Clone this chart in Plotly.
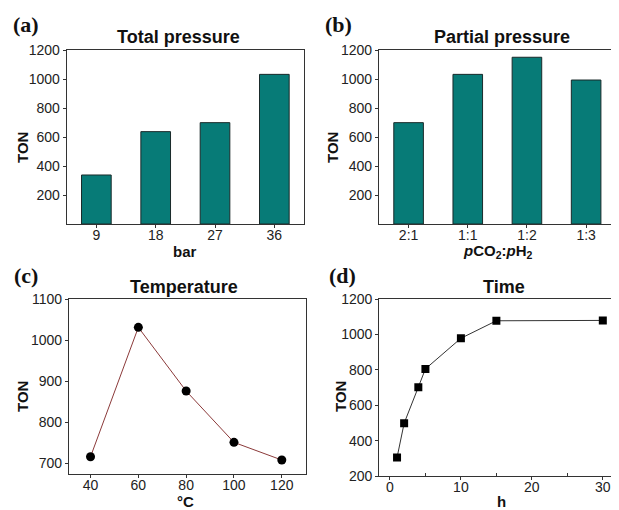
import plotly.graph_objects as go

# Data
pressure_cats = ["9", "18", "27", "36"]
pressure_ton = [338, 637, 699, 1032]

partial_cats = ["2:1", "1:1", "1:2", "1:3"]
partial_ton = [699, 1032, 1150, 993]

temp_c = [40, 60, 80, 100, 120]
temp_ton = [716, 1031, 876, 751, 708]

time_h = [1, 2, 4, 5, 10, 15, 30]
time_ton = [304, 498, 702, 805, 978, 1077, 1079]

# page body has an 8px margin; figure placed at (8,8)
OFF = 8
W, H = 619 - OFF, 510 - OFF
BAR_COLOR = "#077b77"
AX_COLOR = "#333333"
FONT = "Liberation Sans, Arial, sans-serif"
SERIF = "Liberation Serif, Times New Roman, serif"

def px_x(a, b):
    return [(a - OFF) / W, (b - OFF) / W]

def px_y(top, bottom):
    return [1 - (bottom - OFF) / H, 1 - (top - OFF) / H]

fig = go.Figure()

fig.add_trace(go.Bar(x=pressure_cats, y=pressure_ton, marker=dict(color=BAR_COLOR, line=dict(color="#1a2a2a", width=1)),
                     xaxis="x", yaxis="y", showlegend=False))
fig.add_trace(go.Bar(x=partial_cats, y=partial_ton, marker=dict(color=BAR_COLOR, line=dict(color="#1a2a2a", width=1)),
                     xaxis="x2", yaxis="y2", showlegend=False))
fig.add_trace(go.Scatter(x=temp_c, y=temp_ton, mode="lines+markers",
                         line=dict(color="#8b3a3a", width=1),
                         marker=dict(symbol="circle", size=9, color="black"),
                         xaxis="x3", yaxis="y3", showlegend=False))
fig.add_trace(go.Scatter(x=time_h, y=time_ton, mode="lines+markers",
                         line=dict(color="#333333", width=1),
                         marker=dict(symbol="square", size=8, color="black"),
                         xaxis="x4", yaxis="y4", showlegend=False))

common = dict(showline=True, linecolor=AX_COLOR, linewidth=1.2, mirror=True, automargin=False,
              ticks="outside", ticklen=3, tickcolor=AX_COLOR, showgrid=False, zeroline=False,
              tickfont=dict(family=FONT, size=14, color="#222"))
xcommon = dict(common, ticklabelstandoff=-5)

fig.update_layout(
    width=W, height=H,
    margin=dict(l=0, r=0, t=0, b=0, pad=0, autoexpand=False),
    paper_bgcolor="white", plot_bgcolor="white",
    bargap=0.5,
    xaxis=dict(domain=px_x(66.7, 304), anchor="y", type="category", range=[-0.5, 3.5], **xcommon),
    yaxis=dict(domain=px_y(50, 224), anchor="x", range=[0, 1200], tickvals=[200, 400, 600, 800, 1000, 1200], **common),
    xaxis2=dict(domain=px_x(379, 615.7), anchor="y2", type="category", range=[-0.5, 3.5], **xcommon),
    yaxis2=dict(domain=px_y(50, 224), anchor="x2", range=[0, 1200], tickvals=[200, 400, 600, 800, 1000, 1200], **common),
    xaxis3=dict(domain=px_x(69, 305.7), anchor="y3", range=[31, 130], tickvals=[40, 60, 80, 100, 120], **xcommon),
    yaxis3=dict(domain=px_y(299, 474), anchor="x3", range=[674, 1100], tickvals=[700, 800, 900, 1000, 1100], **common),
    xaxis4=dict(domain=px_x(379.3, 617), anchor="y4", range=[-1.5, 32], tickvals=[0, 10, 20, 30],
                minor=dict(tickvals=[5, 15, 25], ticks="inside", ticklen=3, tickcolor=AX_COLOR), **xcommon),
    yaxis4=dict(domain=px_y(299, 476), anchor="x4", range=[200, 1200], tickvals=[200, 400, 600, 800, 1000, 1200], **common),
)

def ann(text, x, y, size=15, family=FONT, angle=0, color="#111"):
    fig.add_annotation(text=text, x=(x - OFF) / W, y=1 - (y - OFF) / H, xref="paper", yref="paper",
                       showarrow=False, xanchor="center", yanchor="middle", textangle=angle,
                       font=dict(family=family, size=size, color=color))

# panel labels
ann("<b>(a)</b>", 26, 25, size=22, family=SERIF)
ann("<b>(b)</b>", 338, 25, size=22, family=SERIF)
ann("<b>(c)</b>", 26, 275, size=22, family=SERIF)
ann("<b>(d)</b>", 342, 275, size=22, family=SERIF)

# titles
ann("<b>Total pressure</b>", 178, 37, size=18)
ann("<b>Partial pressure</b>", 502, 37, size=18)
ann("<b>Temperature</b>", 184, 287, size=18)
ann("<b>Time</b>", 504, 287, size=18)

# axis titles
ann("<b>bar</b>", 185, 251, size=15)
ann("<b><i>p</i>CO<sub>2</sub>:<i>p</i>H<sub>2</sub></b>", 498, 251, size=15)
ann("<b>°C</b>", 185, 501, size=15)
ann("<b>h</b>", 502, 501, size=15)
ann("<b>TON</b>", 22, 148, size=15, angle=-90)
ann("<b>TON</b>", 332, 148, size=15, angle=-90)
ann("<b>TON</b>", 22, 397, size=15, angle=-90)
ann("<b>TON</b>", 340, 397, size=15, angle=-90)

fig.write_html("out.html")
